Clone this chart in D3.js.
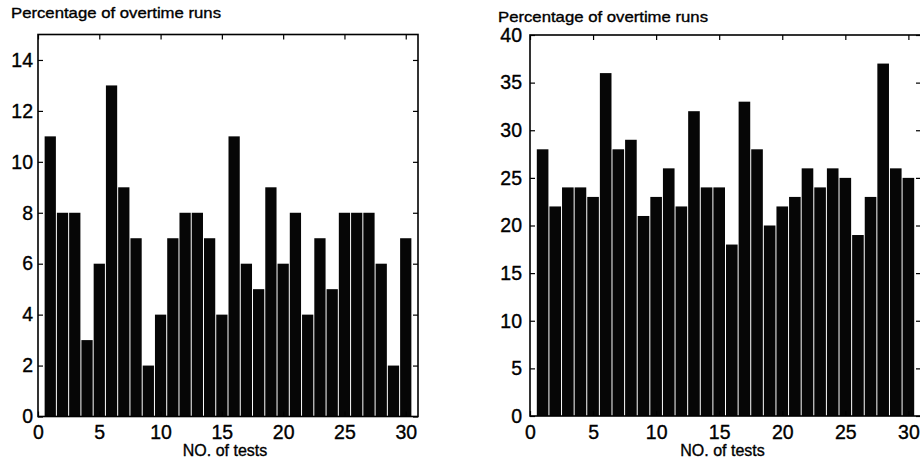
<!DOCTYPE html>
<html>
<head>
<meta charset="utf-8">
<script src="https://cdn.jsdelivr.net/npm/d3@7"></script>
<style>
  html, body { margin: 0; padding: 0; background: #fff; }
  svg { display: block; }
  text { font-family: "Liberation Sans", Arial, sans-serif; fill: #000; stroke: #000; stroke-width: 0.35px; }
</style>
</head>
<body>
<svg id="chart" width="920" height="471"></svg>
<script>
// Test numbers 1..30
const tests = d3.range(1, 31);

// Percentage of overtime runs per test, first experiment
const overtimeA = [11, 8, 8, 3, 6, 13, 9, 7, 2, 4, 7, 8, 8, 7, 4, 11, 6, 5, 9, 6, 8, 4, 7, 5, 8, 8, 8, 6, 2, 7];
// Percentage of overtime runs per test, second experiment
const overtimeB = [28, 22, 24, 24, 23, 36, 28, 29, 21, 23, 26, 22, 32, 24, 24, 18, 33, 28, 20, 22, 23, 26, 24, 26, 25, 19, 23, 37, 26, 25];

const xTicks = [0, 5, 10, 15, 20, 25, 30];
const yTicksA = [0, 2, 4, 6, 8, 10, 12, 14];
const yTicksB = [0, 5, 10, 15, 20, 25, 30, 35, 40];

const yTitle = "Percentage of overtime runs";
const xTitle = "NO. of tests";

const svg = d3.select("#chart");

function drawPanel(cfg) {
  const x = d3.scaleLinear().domain([0, 31]).range([cfg.left, cfg.right]);
  const y = d3.scaleLinear().domain([0, cfg.yMax]).range([cfg.bottom, cfg.top]);
  const g = svg.append("g");

  // bars: unit-wide, centred on each test number, separated by a hairline gap
  const step = x(1) - x(0);
  g.append("g").selectAll("rect")
    .data(cfg.values)
    .join("rect")
    .attr("x", (d, i) => x(tests[i] - 0.5) + 0.5)
    .attr("width", step - 1)
    .attr("y", d => y(d))
    .attr("height", d => y(0) - y(d))
    .attr("fill", "#060606");

  const tickLen = 5;
  const axStyle = sel => {
    sel.select(".domain").remove();
    sel.selectAll(".tick line").attr("stroke", "#000").attr("stroke-width", 1.2);
    sel.selectAll(".tick text")
      .style("font-size", "19.5px")
      .style("font-family", "'Liberation Sans', Arial, sans-serif");
  };

  // bottom axis, ticks pointing into the plot
  g.append("g")
    .attr("transform", `translate(0,${cfg.bottom})`)
    .call(d3.axisBottom(x).tickValues(xTicks).tickSize(-tickLen).tickPadding(9).tickFormat(d3.format("d")))
    .call(axStyle);
  // top axis, ticks only
  g.append("g")
    .attr("transform", `translate(0,${cfg.top})`)
    .call(d3.axisTop(x).tickValues(xTicks).tickSize(-tickLen).tickFormat(""))
    .call(axStyle);
  // left axis
  g.append("g")
    .attr("transform", `translate(${cfg.left},0)`)
    .call(d3.axisLeft(y).tickValues(cfg.yTicks).tickSize(-tickLen).tickPadding(cfg.yPad).tickFormat(d3.format("d")))
    .call(axStyle);
  // right axis, ticks only
  g.append("g")
    .attr("transform", `translate(${cfg.right},0)`)
    .call(d3.axisRight(y).tickValues(cfg.yTicks).tickSize(-tickLen).tickFormat(""))
    .call(axStyle);

  // box
  g.append("rect")
    .attr("x", cfg.left).attr("y", cfg.top)
    .attr("width", cfg.right - cfg.left).attr("height", cfg.bottom - cfg.top)
    .attr("fill", "none").attr("stroke", "#000").attr("stroke-width", 1.6);

  // titles
  g.append("text")
    .attr("x", cfg.titleX).attr("y", cfg.titleY)
    .attr("textLength", 210).attr("lengthAdjust", "spacingAndGlyphs")
    .style("font-size", "15px")
    .text(yTitle);
  g.append("text")
    .attr("x", (cfg.left + cfg.right) / 2 - 3).attr("y", 456)
    .attr("text-anchor", "middle")
    .style("font-size", "16px")
    .text(xTitle);
}

drawPanel({ values: overtimeA, yMax: 15, yTicks: yTicksA, yPad: 5,
  left: 38, right: 418, top: 34.5, bottom: 416.5, titleX: 11, titleY: 18 });
drawPanel({ values: overtimeB, yMax: 40, yTicks: yTicksB, yPad: 8,
  left: 530, right: 921, top: 35, bottom: 416, titleX: 498, titleY: 22 });
</script>
</body>
</html>
